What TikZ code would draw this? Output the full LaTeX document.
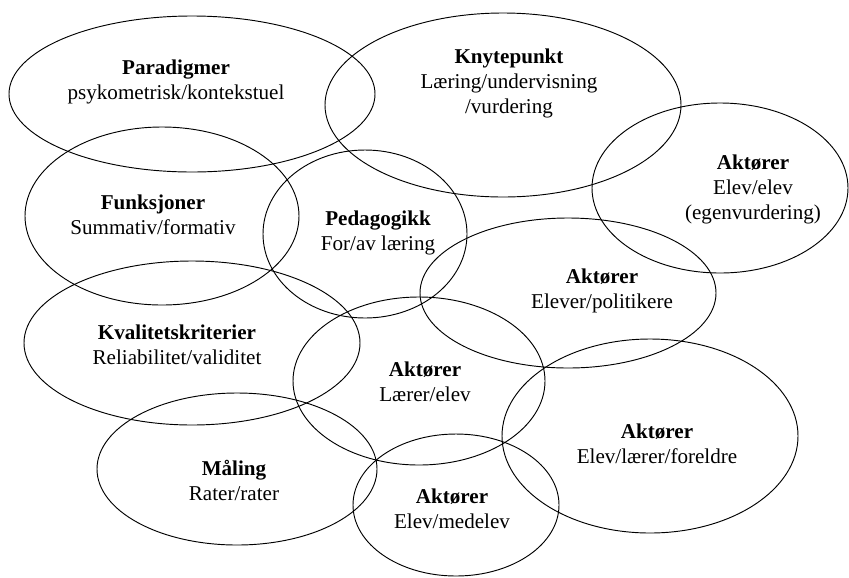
\documentclass[tikz,border=0pt]{standalone}
\usepackage{fontspec}
\setmainfont{Liberation Serif}
\begin{document}
\begin{tikzpicture}[x=0.03cm,y=-0.03cm,line width=0.8pt,
	lbl/.style={align=center,font=\fontsize{18}{21.3}\selectfont}]
	\useasboundingbox (0,0) rectangle (849,577);
	\draw (192,94) ellipse (183 and 78);
	\draw (503,105) ellipse (178 and 92);
	\draw (720,188) ellipse (128 and 85);
	\draw (162,216) ellipse (137 and 89);
	\draw (365,234) ellipse (102 and 84);
	\draw (568,293) ellipse (148 and 75);
	\draw (192,343) ellipse (168 and 82);
	\draw (419,381) ellipse (126 and 84);
	\draw (650,436) ellipse (148 and 97);
	\draw (237,469) ellipse (140 and 76);
	\draw (456,505) ellipse (103 and 71);
	\node[lbl] (paradigmer) at (176,82) {\textbf{Paradigmer}\\psykometrisk/kontekstuel};
	\node[lbl] (knytepunkt) at (509,83) {\textbf{Knytepunkt}\\Læring/undervisning\\/vurdering};
	\node[lbl] (egenvurd) at (753,189) {\textbf{Aktører}\\Elev/elev\\(egenvurdering)};
	\node[lbl] (funksjoner) at (153,215) {\textbf{Funksjoner}\\Summativ/formativ};
	\node[lbl] (pedagogikk) at (378,233) {\textbf{Pedagogikk}\\For/av læring};
	\node[lbl] (politikere) at (602,291) {\textbf{Aktører}\\Elever/politikere};
	\node[lbl] (kvalitet) at (177,345) {\textbf{Kvalitetskriterier}\\Reliabilitet/validitet};
	\node[lbl] (laerer) at (425,382) {\textbf{Aktører}\\Lærer/elev};
	\node[lbl] (foreldre) at (657,444) {\textbf{Aktører}\\Elev/lærer/foreldre};
	\node[lbl] (maaling) at (234,480) {\textbf{Måling}\\Rater/rater};
	\node[lbl] (medelev) at (452,509) {\textbf{Aktører}\\Elev/medelev};
\end{tikzpicture}
\end{document}
